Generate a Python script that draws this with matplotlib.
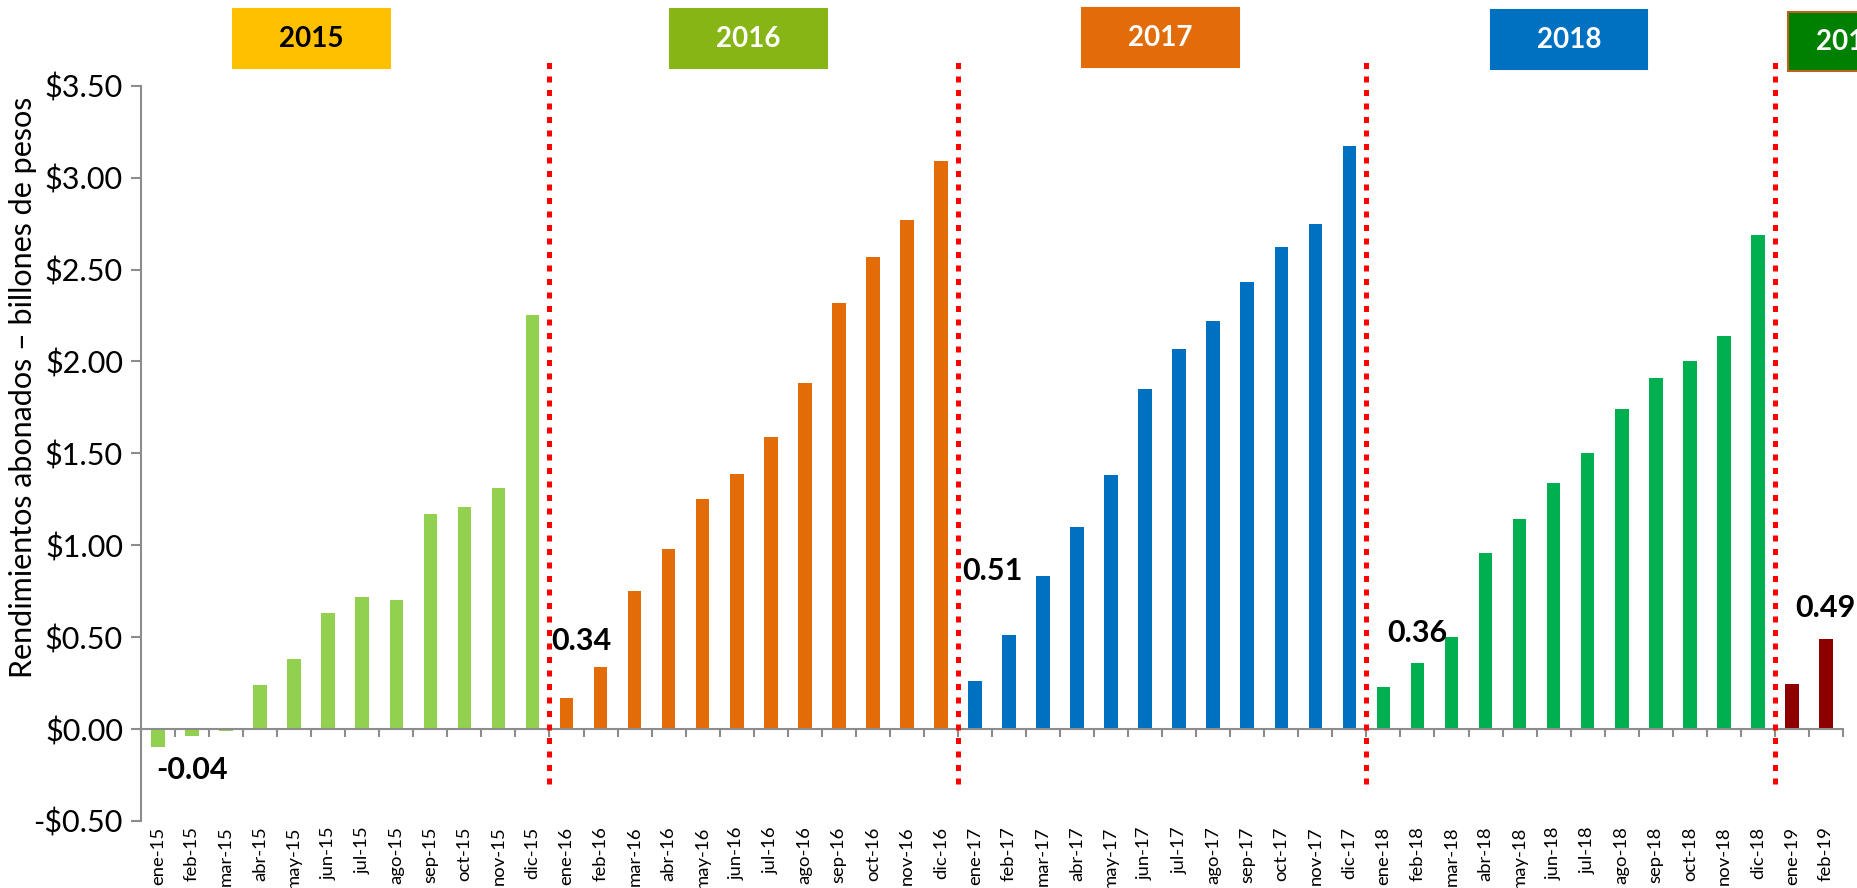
import numpy as np
import matplotlib
matplotlib.use("Agg")
import matplotlib.pyplot as plt
from matplotlib.patches import Rectangle
from matplotlib.transforms import blended_transform_factory

plt.rcParams["font.family"] = ["Lato", "DejaVu Sans"]

MESES = ["ene", "feb", "mar", "abr", "may", "jun",
         "jul", "ago", "sep", "oct", "nov", "dic"]
YEARS = ["2015", "2016", "2017", "2018", "2019"]

vals_2015 = [-0.10, -0.04, -0.01, 0.24, 0.38, 0.63, 0.72, 0.70, 1.17, 1.21, 1.31, 2.25]
vals_2016 = [0.17, 0.34, 0.75, 0.98, 1.25, 1.39, 1.59, 1.88, 2.32, 2.57, 2.77, 3.09]
vals_2017 = [0.26, 0.51, 0.83, 1.10, 1.38, 1.85, 2.07, 2.22, 2.43, 2.62, 2.75, 3.17]
vals_2018 = [0.23, 0.36, 0.50, 0.96, 1.14, 1.34, 1.50, 1.74, 1.91, 2.00, 2.14, 2.69]
vals_2019 = [0.245, 0.49]
series = [vals_2015, vals_2016, vals_2017, vals_2018, vals_2019]

bar_colors = ["#92D050", "#E36C09", "#0070C0", "#00B050", "#8E0000"]
box_colors = ["#FFC000", "#86B515", "#E36C0A", "#0070C0", "#008000"]
box_text = ["black", "white", "white", "white", "white"]

# highlighted labels: (index, text)
highlights = [(1, "-0.04"), (13, "0.34"), (25, "0.51"), (37, "0.36"), (49, "0.49")]
# label offsets in pixels relative to bar end
hl_offsets = [(0, -34), (-19, 26), (-17, 64), (0, 30), (0, 31)]

labels, values, colors = [], [], []
for y, vals, c in zip(YEARS, series, bar_colors):
    for m, v in zip(MESES, vals):
        labels.append(f"{m}-{y[2:]}")
        values.append(v)
        colors.append(c)
x = np.arange(len(values))

fig = plt.figure(figsize=(18.58, 8.88), dpi=100)
ax = fig.add_axes([0.0759, 0.0755, 0.916, 0.828])

ax.bar(x, values, width=0.4, color=colors, zorder=2)
ax.set_xlim(-0.5, len(values) - 0.5)
ax.set_ylim(-0.5, 3.5)

axis_gray = "#8C8C8C"
for s in ["top", "right"]:
    ax.spines[s].set_visible(False)
ax.spines["left"].set_color(axis_gray)
ax.spines["left"].set_linewidth(1.5)
ax.spines["bottom"].set_position(("data", 0))
ax.spines["bottom"].set_color(axis_gray)
ax.spines["bottom"].set_linewidth(1.5)

ax.set_yticks(np.arange(-0.5, 3.51, 0.5))
ax.set_yticklabels([f"-${abs(v):.2f}" if v < 0 else f"${v:.2f}"
                    for v in np.arange(-0.5, 3.51, 0.5)])
ax.tick_params(axis="y", direction="out", length=7, width=1.5,
               color=axis_gray, labelsize=22, pad=6)

ax.set_xticks(np.arange(len(values) + 1) - 0.5)
ax.set_xticklabels([])
ax.tick_params(axis="x", direction="out", length=6, width=1.5, color=axis_gray)

sec = ax.secondary_xaxis("bottom")
sec.set_xticks(x)
sec.set_xticklabels(labels, rotation=90, fontsize=13.3)
sec.tick_params(length=0, pad=4)
sec.spines["bottom"].set_visible(False)

ax.set_ylabel("Rendimientos abonados \u2013 billones de pesos", fontsize=22)
ax.yaxis.set_label_coords(-0.061, 0.59)

# year separators
for b in np.arange(12, len(values), 12) - 0.5:
    ax.vlines(b, -0.3, 3.65, colors="#FF0000", linewidth=3.6,
              linestyles=(0, (1.2, 1.5)), clip_on=False, zorder=3)

# data labels
for (i, txt), (dx, dy) in zip(highlights, hl_offsets):
    ax.annotate(txt, (x[i], values[i]), xytext=(dx * 0.72, dy * 0.72),
                textcoords="offset points", ha="center", va="center",
                fontsize=22, fontweight="bold", color="black", zorder=4)

# year boxes
trans = blended_transform_factory(ax.transData, fig.transFigure)
box_centers = [4.5, 17.35, 29.45, 41.45, 50.2]
text_centers = [4.5, 17.35, 29.45, 41.45, 49.65]
box_tops = [9.5, 9.5, 8, 10, 12]
box_w = 4.6
box_h = 59 / 888
for yr, cx, tx, top, fc, tc in zip(YEARS, box_centers, text_centers, box_tops,
                                   box_colors, box_text):
    y1 = 1 - top / 888
    ec = "#B5651D" if yr == "2019" else fc
    r = Rectangle((cx - box_w / 2, y1 - box_h), box_w, box_h, transform=trans,
                  facecolor=fc, edgecolor=ec, linewidth=1.5, clip_on=False)
    fig.add_artist(r)
    fig.text(tx, y1 - box_h / 2, yr, transform=trans, ha="center", va="center",
             fontsize=20, fontweight="bold", color=tc)

fig.savefig("out.png", dpi=100)
